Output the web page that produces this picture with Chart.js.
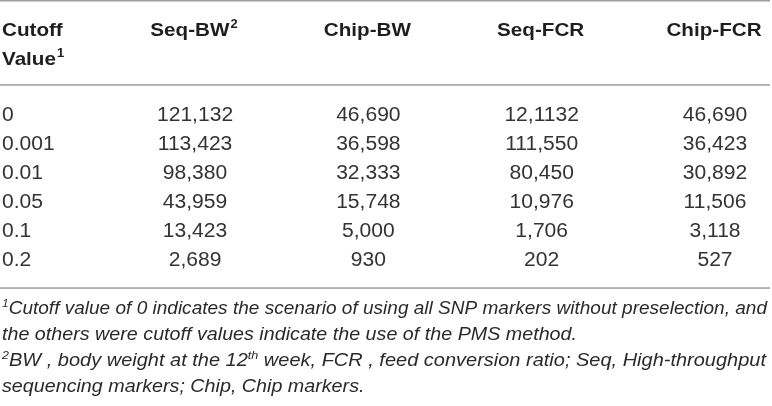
<!DOCTYPE html>
<html><head><meta charset="utf-8">
<script src="https://cdn.jsdelivr.net/npm/chart.js@4.4.0/dist/chart.umd.min.js"></script>
<style>html,body{margin:0;padding:0;background:#fff}#wrap{width:772px;height:406px;position:relative}</style>
</head><body><div id="wrap"><canvas id="c"></canvas></div>
<script>
// ---- table content ----
const columns = ['Cutoff Value', 'Seq-BW', 'Chip-BW', 'Seq-FCR', 'Chip-FCR'];
const columnNotes = ['1', '2', '', '', ''];
const cutoffs = ['0', '0.001', '0.01', '0.05', '0.1', '0.2'];
const seqBW = ['121,132', '113,423', '98,380', '43,959', '13,423', '2,689'];
const chipBW = ['46,690', '36,598', '32,333', '15,748', '5,000', '930'];
const seqFCR = ['12,1132', '111,550', '80,450', '10,976', '1,706', '202'];
const chipFCR = ['46,690', '36,423', '30,892', '11,506', '3,118', '527'];
const footnote1 = [['1', 'sup'], ['Cutoff value of 0 indicates the scenario of using all SNP markers without preselection, and', '']];
const footnote2 = [['the others were cutoff values indicate the use of the PMS method.', '']];
const footnote3 = [['2', 'sup'], ['BW , body weight at the 12', ''], ['th', 'sup'], [' week, FCR , feed conversion ratio; Seq, High-throughput', '']];
const footnote4 = [['sequencing markers; Chip, Chip markers.', '']];

const FAM = '"Liberation Sans", Arial, Helvetica, sans-serif';
const columnsData = [cutoffs, seqBW, chipBW, seqFCR, chipFCR];

function txt(ctx, s, x, y, font, color, sx, align) {
  ctx.save();
  ctx.font = font;
  ctx.fillStyle = color;
  ctx.textBaseline = 'alphabetic';
  const w = ctx.measureText(s).width * sx;
  let x0 = x;
  if (align === 'center') x0 = x - w / 2;
  else if (align === 'right') x0 = x - w;
  ctx.translate(x0, y);
  ctx.scale(sx, 1);
  ctx.textAlign = 'left';
  ctx.fillText(s, 0, 0);
  ctx.restore();
  return w;
}

function segWidths(ctx, segs, size) {
  return segs.map(([t, st]) => {
    ctx.font = (st === 'sup' ? 'italic ' + Math.round(size * 0.62) + 'px ' : 'italic ' + size + 'px ') + FAM;
    return ctx.measureText(t).width;
  });
}
function drawSegs(ctx, segs, x, y, size, s) {
  const ws = segWidths(ctx, segs, size);
  ctx.save();
  ctx.translate(x, y);
  ctx.scale(s, 1);
  ctx.fillStyle = '#2a2a2a';
  ctx.textBaseline = 'alphabetic';
  let cx = 0;
  segs.forEach(([t, st], i) => {
    if (st === 'sup') {
      ctx.font = 'italic ' + Math.round(size * 0.62) + 'px ' + FAM;
      ctx.fillText(t, cx, -size * 0.42);
    } else {
      ctx.font = 'italic ' + size + 'px ' + FAM;
      ctx.fillText(t, cx, 0);
    }
    cx += ws[i];
  });
  ctx.restore();
}

const tablePlugin = {
  id: 'tablePlugin',
  afterDraw(chart) {
    const ctx = chart.ctx;
    const xs = chart.scales.x, ys = chart.scales.y;
    const px = i => xs.getPixelForValue(i);
    const py = i => ys.getPixelForValue(i);
    const rowTop = py(0), rowBot = py(cutoffs.length - 1);
    const W = chart.width;
    // rules
    ctx.save();
    ctx.fillStyle = '#9c9c9c';
    ctx.fillRect(0, 0, W - 2, 1.5);
    ctx.fillRect(0, rowTop - 29.5, W - 2, 1.5);
    ctx.fillRect(0, rowBot + 28.5, W - 2, 1.5);
    ctx.restore();

    // headers
    const hSize = 18.6, hsx = 1.11;
    const hFont = 'bold ' + hSize + 'px ' + FAM;
    const supFont = 'bold 13px ' + FAM;
    const hColor = '#1e1e1e';
    const h1 = rowTop - 78, h2 = rowTop - 49;
    const firstParts = columns[0].split(' ');
    txt(ctx, firstParts[0], 2, h1, hFont, hColor, hsx, 'left');
    const vw = txt(ctx, firstParts[1], 2, h2, hFont, hColor, hsx, 'left');
    txt(ctx, columnNotes[0], 2 + vw + 1, h2 - 8, supFont, hColor, 1, 'left');
    for (let i = 1; i < columns.length; i++) {
      ctx.font = hFont;
      const mw = ctx.measureText(columns[i]).width * hsx;
      ctx.font = supFont;
      const sw = columnNotes[i] ? ctx.measureText(columnNotes[i]).width + 1 : 0;
      const left = px(i) - (mw + sw) / 2 - 1;
      txt(ctx, columns[i], left, h1, hFont, hColor, hsx, 'left');
      if (columnNotes[i]) txt(ctx, columnNotes[i], left + mw + 1, h1 - 8, supFont, hColor, 1, 'left');
    }

    // body
    const dSize = 19.5, dsx = 1.08;
    const dFont = dSize + 'px ' + FAM;
    const dColor = '#333333';
    cutoffs.forEach((c, r) => {
      const base = py(r) + dSize * 0.358;
      txt(ctx, c, 2, base, dFont, dColor, dsx, 'left');
      for (let i = 1; i < columnsData.length; i++) {
        txt(ctx, columnsData[i][r], px(i), base, dFont, dColor, dsx, 'center');
      }
    });

    // footnotes
    const fSize = 17.5;
    const fb = rowBot + 28.5;
    const nat = segs => segWidths(ctx, segs, fSize).reduce((a, b) => a + b, 0);
    const s1 = 765 / nat(footnote1);
    const s2 = 575 / nat(footnote2);
    const s3 = 764 / nat(footnote3);
    drawSegs(ctx, footnote1, 2, fb + 27, fSize, s1);
    drawSegs(ctx, footnote2, 2, fb + 53, fSize, s2);
    drawSegs(ctx, footnote3, 2, fb + 79, fSize, s3);
    drawSegs(ctx, footnote4, 2, fb + 105, fSize, s2);
  }
};

new Chart(document.getElementById('c'), {
  type: 'scatter',
  data: { datasets: [] },
  options: {
    responsive: true,
    maintainAspectRatio: false,
    animation: false,
    events: [],
    layout: { padding: { left: 21.7, right: 57, top: 113.7, bottom: 147.2 } },
    plugins: { legend: { display: false }, tooltip: { enabled: false } },
    scales: {
      x: { type: 'category', labels: columns, offset: false, display: false },
      y: { type: 'category', labels: cutoffs, offset: false, display: false }
    }
  },
  plugins: [tablePlugin]
});
</script>
</body></html>
